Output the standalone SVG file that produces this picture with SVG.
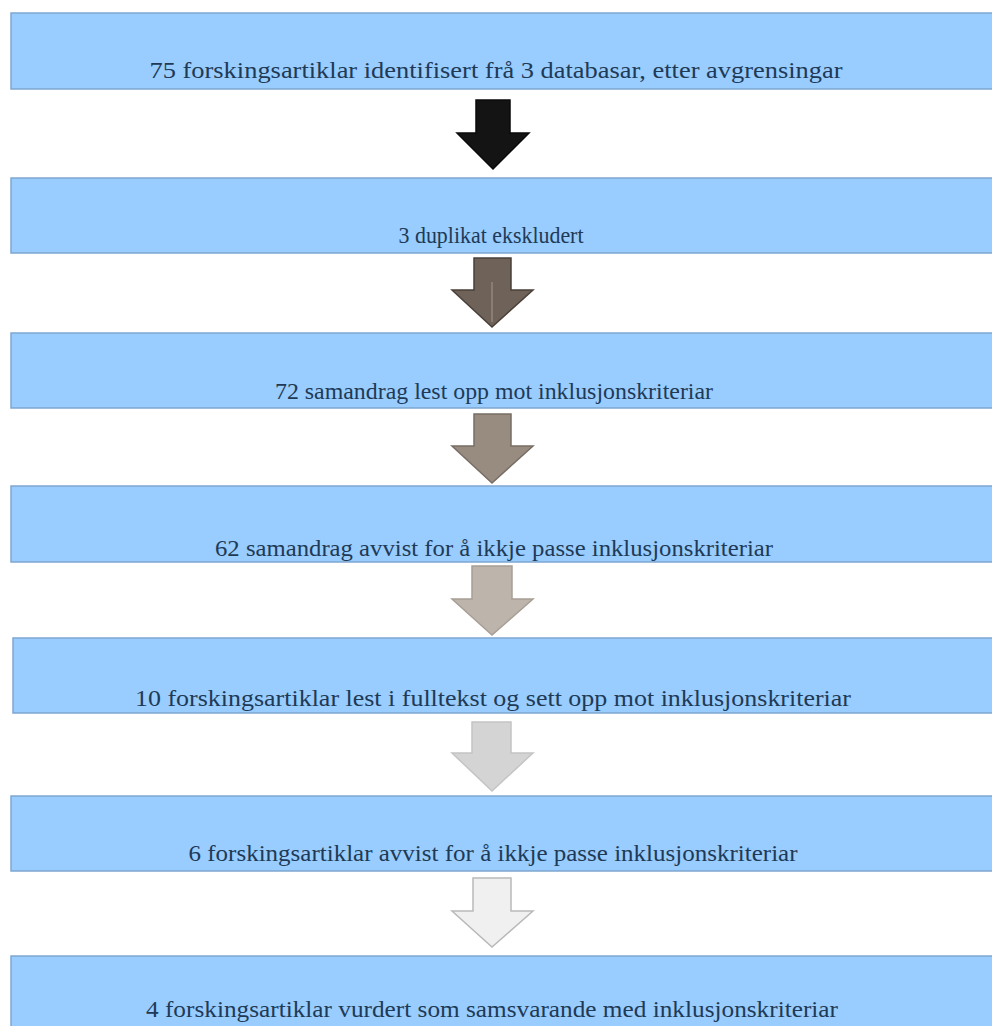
<svg xmlns="http://www.w3.org/2000/svg" width="992" height="1026" viewBox="0 0 992 1026">
<style>
.box{fill:#99ccff;stroke:#7fa6cf;stroke-width:1.5}
.lbl{font-family:"Liberation Serif","Times New Roman",serif;font-size:24px;fill:#203a55;text-anchor:middle}
.arr{stroke-width:1.5;stroke-linejoin:miter}
</style>
<rect width="992" height="1026" fill="#ffffff"/>
<g id="connectors">
<path class="arr" d="M476,100 H510 V133 H529 L493,169 L457,133 H476 Z" fill="#141414" stroke="#0a0a0a"/>
<path class="arr" d="M474,258 H511 V290 H533 L492,327 L452,290 H474 Z" fill="#6e6259" stroke="#4a4038"/>
<line x1="492" y1="282" x2="492" y2="322" stroke="#a59a90" stroke-width="1"/>
<path class="arr" d="M474,414 H511 V446 H533 L492,483 L452,446 H474 Z" fill="#988c81" stroke="#776d64"/>
<path class="arr" d="M472,566 H512 V599 H533 L492,635 L452,599 H472 Z" fill="#bdb5ac" stroke="#a79e95"/>
<path class="arr" d="M472,722 H511 V753 H533 L492,791 L452,753 H472 Z" fill="#d4d4d4" stroke="#c4c4c4"/>
<path class="arr" d="M473,878 H511 V911 H533 L492,947 L452,911 H473 Z" fill="#f0f0f0" stroke="#b9b9b9"/>
</g>
<g id="n1"><rect class="box" x="11" y="13" width="990" height="76"/><text class="lbl" x="496" y="78" textLength="693" lengthAdjust="spacingAndGlyphs">75 forskingsartiklar identifisert frå 3 databasar, etter avgrensingar</text></g>
<g id="n2"><rect class="box" x="11" y="178" width="990" height="75"/><text class="lbl" x="491" y="243" textLength="185" lengthAdjust="spacingAndGlyphs">3 duplikat ekskludert</text></g>
<g id="n3"><rect class="box" x="11" y="333" width="990" height="75"/><text class="lbl" x="494" y="399" textLength="438" lengthAdjust="spacingAndGlyphs">72 samandrag lest opp mot inklusjonskriteriar</text></g>
<g id="n4"><rect class="box" x="11" y="486" width="990" height="76"/><text class="lbl" x="494" y="556" textLength="558" lengthAdjust="spacingAndGlyphs">62 samandrag avvist for å ikkje passe inklusjonskriteriar</text></g>
<g id="n5"><rect class="box" x="13" y="638" width="990" height="75"/><text class="lbl" x="493" y="706" textLength="716" lengthAdjust="spacingAndGlyphs">10 forskingsartiklar lest i fulltekst og sett opp mot inklusjonskriteriar</text></g>
<g id="n6"><rect class="box" x="11" y="796" width="990" height="75"/><text class="lbl" x="493" y="861" textLength="609" lengthAdjust="spacingAndGlyphs">6 forskingsartiklar avvist for å ikkje passe inklusjonskriteriar</text></g>
<g id="n7"><rect class="box" x="11" y="956" width="990" height="80"/><text class="lbl" x="492" y="1017" textLength="692" lengthAdjust="spacingAndGlyphs">4 forskingsartiklar vurdert som samsvarande med inklusjonskriteriar</text></g>
</svg>
